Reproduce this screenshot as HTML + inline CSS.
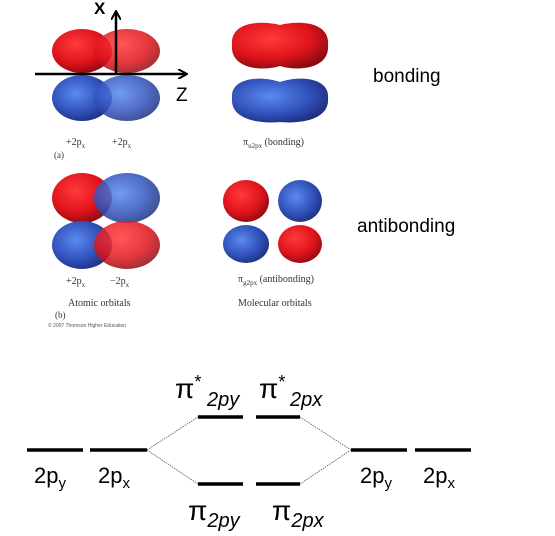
<!DOCTYPE html>
<html><head><meta charset="utf-8">
<style>
html,body{margin:0;padding:0;background:#fff;}
svg{display:block;}
text{font-family:"Liberation Sans",sans-serif;}
.serif{font-family:"Liberation Serif",serif;fill:#333;}
</style></head>
<body>
<svg width="555" height="536" viewBox="0 0 555 536">
<defs>
<radialGradient id="red" cx="0.4" cy="0.35" r="0.7">
<stop offset="0" stop-color="#ff3a3a"/><stop offset="0.6" stop-color="#e0141c"/><stop offset="1" stop-color="#8a0a10"/></radialGradient>
<radialGradient id="blue" cx="0.4" cy="0.4" r="0.7">
<stop offset="0" stop-color="#5a8af0"/><stop offset="0.6" stop-color="#3050b8"/><stop offset="1" stop-color="#1a2870"/></radialGradient>
<marker id="arr" markerWidth="10" markerHeight="10" refX="8" refY="5" orient="auto" markerUnits="userSpaceOnUse">
<path d="M0,0 L9,5 L0,10" fill="none" stroke="#000" stroke-width="2"/></marker>
</defs>

<!-- (a) atomic orbitals bonding -->
<g>
<ellipse cx="82" cy="51" rx="30" ry="22" fill="url(#red)"/>
<ellipse cx="127" cy="51" rx="33" ry="22" fill="url(#red)" opacity="0.85"/>
<ellipse cx="82" cy="98" rx="30" ry="23" fill="url(#blue)"/>
<ellipse cx="127" cy="98" rx="33" ry="23" fill="url(#blue)" opacity="0.85"/>
<line x1="35" y1="74" x2="186" y2="74" stroke="#000" stroke-width="2.5" marker-end="url(#arr)"/>
<line x1="116" y1="74" x2="116" y2="12" stroke="#000" stroke-width="2.5" marker-end="url(#arr)"/>
<text x="94" y="14" font-size="17" font-weight="bold">X</text>
<text x="176" y="101" font-size="19">Z</text>
<text class="serif" x="66" y="145" font-size="10">+2p<tspan font-size="7" dy="3">x</tspan></text>
<text class="serif" x="112" y="145" font-size="10">+2p<tspan font-size="7" dy="3">x</tspan></text>
<text class="serif" x="54" y="158" font-size="9">(a)</text>
</g>

<g>
<path d="M232,45 C230,22 260,20 280,25 C300,20 330,22 328,45 C330,68 300,72 280,66 C260,72 230,68 232,45Z" fill="url(#red)"/>
<path d="M232,98 C230,78 260,75 280,82 C300,75 330,78 328,98 C330,120 300,124 280,122 C260,124 230,120 232,98Z" fill="url(#blue)"/>
<text class="serif" x="243" y="145" font-size="10">π<tspan font-size="7" dy="3">u2px</tspan><tspan dy="-3"> (bonding)</tspan></text>
</g>
<text x="373" y="82" font-size="19" fill="#000">bonding</text>

<!-- (b) antibonding atomic -->
<g>
<ellipse cx="82" cy="198" rx="30" ry="25" fill="url(#red)"/>
<ellipse cx="127" cy="198" rx="33" ry="25" fill="url(#blue)" opacity="0.85"/>
<ellipse cx="82" cy="245" rx="30" ry="24" fill="url(#blue)"/>
<ellipse cx="127" cy="245" rx="33" ry="24" fill="url(#red)" opacity="0.85"/>
<text class="serif" x="66" y="284" font-size="10">+2p<tspan font-size="7" dy="3">x</tspan></text>
<text class="serif" x="110" y="284" font-size="10">−2p<tspan font-size="7" dy="3">x</tspan></text>
<text class="serif" x="68" y="306" font-size="10">Atomic orbitals</text>
<text class="serif" x="55" y="318" font-size="9">(b)</text>
<text x="48" y="327" font-size="5" fill="#555">© 2007 Thomson Higher Education</text>
</g>

<g>
<ellipse cx="246" cy="201" rx="23" ry="21" fill="url(#red)"/>
<ellipse cx="300" cy="201" rx="22" ry="21" fill="url(#blue)"/>
<ellipse cx="246" cy="244" rx="23" ry="19" fill="url(#blue)"/>
<ellipse cx="300" cy="244" rx="22" ry="19" fill="url(#red)"/>
<text class="serif" x="238" y="282" font-size="10">π<tspan font-size="7" dy="3">g2px</tspan><tspan dy="-3"> (antibonding)</tspan></text>
<text class="serif" x="238" y="306" font-size="10">Molecular orbitals</text>
</g>
<text x="357" y="232" font-size="19" fill="#000">antibonding</text>

<!-- energy diagram -->
<g>
<g stroke="#000" stroke-width="3.5">
<line x1="27" y1="450" x2="83" y2="450"/>
<line x1="90" y1="450" x2="147" y2="450"/>
<line x1="198" y1="417" x2="243" y2="417"/>
<line x1="256" y1="417" x2="300" y2="417"/>
<line x1="198" y1="484" x2="243" y2="484"/>
<line x1="256" y1="484" x2="300" y2="484"/>
<line x1="351" y1="450" x2="407" y2="450"/>
<line x1="415" y1="450" x2="471" y2="450"/>
</g>
<g stroke="#555" stroke-width="0.8" stroke-dasharray="1.5,1">
<line x1="147" y1="450" x2="198" y2="417"/>
<line x1="147" y1="450" x2="198" y2="484"/>
<line x1="300" y1="417" x2="351" y2="450"/>
<line x1="300" y1="484" x2="351" y2="450"/>
</g>
<g font-size="22" fill="#000">
<text x="34" y="483">2p<tspan font-size="15" dy="5">y</tspan></text>
<text x="98" y="483">2p<tspan font-size="15" dy="5">x</tspan></text>
<text x="360" y="483">2p<tspan font-size="15" dy="5">y</tspan></text>
<text x="423" y="483">2p<tspan font-size="15" dy="5">x</tspan></text>
<text x="175" y="398" font-size="28">π<tspan font-size="18" dy="-10">*</tspan></text>
<text x="207" y="406" font-size="20" font-style="italic">2py</text>
<text x="259" y="398" font-size="28">π<tspan font-size="18" dy="-10">*</tspan></text>
<text x="290" y="406" font-size="20" font-style="italic">2px</text>
<text x="188" y="520" font-size="28">π<tspan font-size="20" font-style="italic" dy="7">2py</tspan></text>
<text x="272" y="520" font-size="28">π<tspan font-size="20" font-style="italic" dy="7">2px</tspan></text>
</g>
</g>
</svg>
</body></html>
